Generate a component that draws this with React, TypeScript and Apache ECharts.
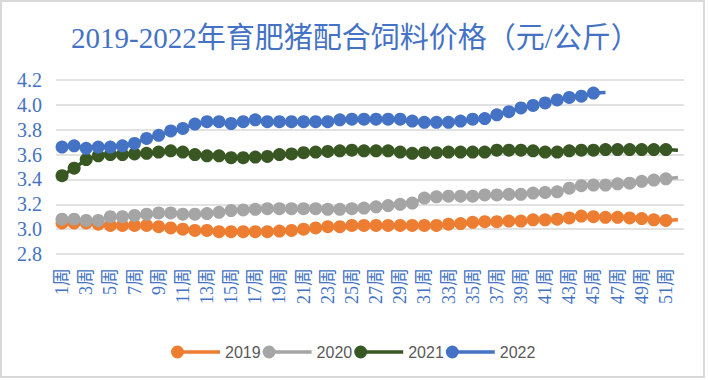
import React, { useEffect, useRef } from "react";
import * as echarts from "echarts";

const weeks: string[] = Array.from({ length: 52 }, (_, i) => `${i + 1}周`);
const seriesNames = ["2019", "2020", "2021", "2022"];
const colors = ["#ed7d31", "#a5a5a5", "#385723", "#4472c4"];

const v2019 = [
  3.05, 3.05, 3.05, 3.04, 3.03, 3.03, 3.03, 3.03, 3.02, 3.01, 3.0, 2.99, 2.99,
  2.98, 2.98, 2.98, 2.98, 2.98, 2.985, 2.99, 3.0, 3.01, 3.02, 3.02, 3.03, 3.03,
  3.03, 3.03, 3.03, 3.03, 3.03, 3.03, 3.04, 3.045, 3.055, 3.06, 3.06, 3.065, 3.065,
  3.075, 3.075, 3.08, 3.09, 3.105, 3.1, 3.095, 3.095, 3.09, 3.085, 3.075, 3.07, 3.075,
];
const v2020 = [
  3.08, 3.08, 3.07, 3.07, 3.1, 3.1, 3.11, 3.12, 3.13, 3.13, 3.12, 3.12, 3.125,
  3.135, 3.15, 3.155, 3.16, 3.165, 3.165, 3.165, 3.165, 3.165, 3.16, 3.16, 3.165, 3.17,
  3.18, 3.19, 3.2, 3.21, 3.25, 3.26, 3.265, 3.265, 3.265, 3.275, 3.275, 3.28, 3.28,
  3.29, 3.295, 3.3, 3.33, 3.35, 3.355, 3.355, 3.365, 3.37, 3.385, 3.395, 3.405, 3.415,
];
const v2021 = [
  3.43, 3.49, 3.56, 3.59, 3.6, 3.6, 3.605, 3.61, 3.62, 3.63, 3.62, 3.6, 3.59,
  3.59, 3.575, 3.575, 3.58, 3.585, 3.6, 3.605, 3.615, 3.62, 3.625, 3.63, 3.635, 3.63,
  3.63, 3.63, 3.62, 3.61, 3.615, 3.615, 3.62, 3.62, 3.62, 3.62, 3.635, 3.635, 3.635,
  3.63, 3.62, 3.62, 3.63, 3.635, 3.635, 3.64, 3.64, 3.64, 3.64, 3.64, 3.64, 3.635,
];
const v2022 = [
  3.66, 3.67, 3.65, 3.66, 3.66, 3.67, 3.69, 3.73, 3.755, 3.79, 3.81, 3.845, 3.865,
  3.865, 3.85, 3.865, 3.88, 3.865, 3.865, 3.865, 3.865, 3.865, 3.865, 3.88, 3.885, 3.885,
  3.885, 3.885, 3.885, 3.87, 3.86, 3.86, 3.86, 3.87, 3.885, 3.89, 3.92, 3.945, 3.975,
  3.995, 4.015, 4.04, 4.06, 4.07, 4.095, 4.1,
];
const allValues = [v2019, v2020, v2021, v2022];

const legendIcon =
  "path://M0,6.5A6.5,6.5,0,1,1,13,6.5A6.5,6.5,0,1,1,0,6.5Z M6.5,4.75L49,4.75L49,8.25L6.5,8.25Z";

export default function App() {
  const ref = useRef<HTMLDivElement>(null);
  useEffect(() => {
    if (!ref.current) return;
    const chart = echarts.init(ref.current, null, { renderer: "svg" });
    const series = allValues.map((vals, i) => ({
      name: seriesNames[i],
      type: "line",
      z: 2 + i,
      symbol: "circle",
      symbolSize: 13,
      showAllSymbol: true,
      color: colors[i],
      lineStyle: { width: 3.5, color: colors[i] },
      itemStyle: { color: colors[i], borderWidth: 0 },
      data: vals.map((v, j) =>
        j === vals.length - 1 ? { value: v, symbol: "none" } : v
      ),
    }));
    chart.setOption({
      animation: false,
      backgroundColor: "#ffffff",
      title: {
        text: "2019-2022年育肥猪配合饲料价格（元/公斤）",
        left: 66,
        top: 18,
        textStyle: {
          fontFamily: "'Liberation Serif', 'Noto Sans CJK SC'",
          fontSize: 29,
          fontWeight: "normal",
          color: "#4472c4",
        },
      },
      graphic: [
        {
          type: "rect",
          shape: { x: 1, y: 1, width: 703, height: 376 },
          style: { fill: "none", stroke: "#d9d9d9", lineWidth: 2 },
          silent: true,
        },
      ],
      grid: { left: 56, right: 24, top: 80, bottom: 126 },
      legend: {
        data: seriesNames,
        left: 166,
        top: 339,
        itemWidth: 49,
        itemHeight: 13,
        itemGap: 2,
        icon: legendIcon,
        itemStyle: { borderWidth: 0 },
        textStyle: {
          color: "#595959",
          fontSize: 16,
          fontFamily: "'Liberation Sans', sans-serif",
        },
      },
      xAxis: {
        type: "category",
        data: weeks,
        boundaryGap: true,
        axisLine: { show: false },
        axisTick: { show: false },
        splitLine: { show: false },
        axisLabel: {
          interval: 1,
          rotate: 90,
          margin: 14,
          fontSize: 18,
          fontFamily: "'Liberation Serif', 'Noto Sans CJK SC'",
          color: "#4472c4",
        },
      },
      yAxis: {
        type: "value",
        min: 2.8,
        max: 4.2,
        interval: 0.2,
        axisLine: { show: false },
        axisTick: { show: false },
        splitLine: { lineStyle: { color: "#d9d9d9", width: 1.5 } },
        axisLabel: {
          margin: 14,
          fontSize: 20,
          fontFamily: "'Liberation Serif', serif",
          color: "#4472c4",
          formatter: (v: number) => v.toFixed(1),
        },
      },
      series,
    });
    return () => chart.dispose();
  }, []);
  return (
    <div
      ref={ref}
      style={{ position: "fixed", left: 0, top: 0, width: 708, height: 380 }}
    />
  );
}
